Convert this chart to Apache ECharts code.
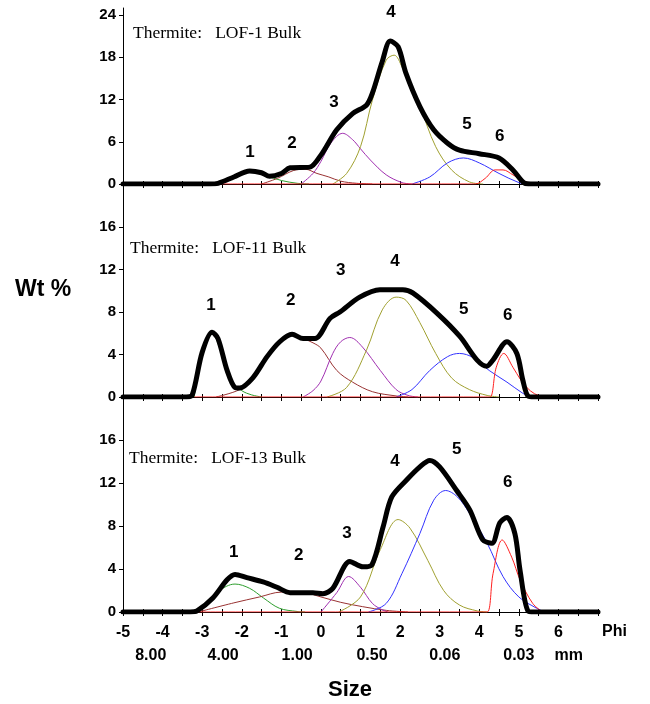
<!DOCTYPE html>
<html>
<head>
<meta charset="utf-8">
<script src="https://cdn.jsdelivr.net/npm/echarts@6/dist/echarts.min.js"></script>
<style>
  html, body { margin: 0; padding: 0; background: #fff; }
  #chart { width: 650px; height: 704px; }
</style>
</head>
<body>
<div id="chart"></div>
<script>
// x axis (phi) labels and the mm row under it
var phiLabels = [-5, -4, -3, -2, -1, 0, 1, 2, 3, 4, 5, 6];
var mmLabels = ['8.00', '4.00', '1.00', '0.50', '0.06', '0.03', 'mm'];
var mmPhi = [-4.3, -2.47, -0.6, 1.29, 3.13, 5.0, 6.26];
var topTicks = [0, 6, 12, 18, 24];
var lowTicks = [0, 4, 8, 12, 16];
var titles = ['Thermite:   LOF-1 Bulk', 'Thermite:   LOF-11 Bulk', 'Thermite:   LOF-13 Bulk'];

// LOF-1
var lof1Total = [[-5,0],[-2.8,0],[-2.6,0.1],[-2.2,1.0],[-1.8,1.85],[-1.5,1.6],[-1.3,1.1],[-1.0,1.5],[-0.78,2.3],[-0.28,2.4],[0,4.1],[0.4,7.7],[0.8,10.0],[1.15,11.2],[1.3,12.9],[1.55,17.4],[1.75,20.3],[1.95,19.5],[2.15,15.7],[2.5,11.0],[2.85,7.7],[3.2,5.8],[3.5,4.8],[4.0,4.3],[4.5,3.7],[4.85,2.0],[5.15,0.1],[5.3,0],[7,0]];
var lof1C1 = [[-2.6,0],[-2.2,0.8],[-1.8,1.8],[-1.4,1.2],[-1.0,0.5],[-0.6,0.1],[-0.3,0]];
var lof1C2 = [[-1.5,0],[-1.1,0.8],[-0.7,1.9],[-0.4,2.1],[-0.1,1.5],[0.2,1.0],[0.5,0.4],[0.9,0.1],[1.3,0]];
var lof1C3 = [[-0.5,0],[-0.2,1.5],[0,3.2],[0.25,5.8],[0.55,7.2],[0.8,6.3],[1.0,5.0],[1.25,3.4],[1.65,1.3],[2.05,0.2],[2.3,0]];
var lof1C4 = [[0.3,0],[0.65,1.5],[1.0,5.3],[1.3,11.9],[1.65,17.6],[1.85,18.3],[2.05,16.6],[2.5,11.0],[2.9,5.3],[3.3,2.0],[3.75,0.3],[4.1,0]];
var lof1C5 = [[2.3,0],[2.75,1.0],[3.2,3.0],[3.6,3.7],[4.0,3.0],[4.5,1.5],[5.0,0.2],[5.2,0]];
var lof1C6 = [[-2.5,0],[3.7,0],[3.9,0],[4.15,0.8],[4.4,2.0],[4.6,2.0],[4.85,1.3],[5.1,0.5],[5.35,0]];
var lof1Peaks = [[-1.79,4.55,'1'],[-0.73,5.82,'2'],[0.33,11.65,'3'],[1.77,24.4,'4'],[3.69,8.5,'5'],[4.52,6.8,'6']];

// LOF-11
var lof11Total = [[-5,0],[-3.4,0],[-3.25,0.2],[-3.0,4.2],[-2.75,6.1],[-2.6,5.5],[-2.37,2.5],[-2.17,0.9],[-2.05,0.85],[-1.72,1.8],[-1.36,3.8],[-1.04,5.2],[-0.73,5.9],[-0.45,5.5],[-0.15,5.5],[0.23,7.4],[0.48,8.0],[0.98,9.4],[1.49,10.1],[2.07,10.1],[2.32,9.8],[2.93,7.9],[3.51,5.7],[3.94,3.5],[4.19,2.9],[4.35,3.5],[4.7,5.2],[4.95,4.1],[5.1,1.6],[5.23,0.1],[5.4,0],[7,0]];
var lof11C1 = [[-3.2,0],[-3.0,4.2],[-2.75,6.0],[-2.5,4.0],[-2.25,1.5],[-2.0,0.6],[-1.75,0.2],[-1.5,0]];
var lof11C2 = [[-2.65,0],[-2.05,0.7],[-1.7,1.8],[-1.35,3.7],[-1.05,5.1],[-0.75,5.85],[-0.45,5.5],[-0.2,5.1],[0,4.6],[0.4,2.5],[0.8,1.4],[1.3,0.5],[1.9,0.1],[2.2,0]];
var lof11C3 = [[-0.45,0],[-0.2,0.6],[0,1.5],[0.3,4.1],[0.5,5.2],[0.73,5.6],[1.05,4.7],[1.5,2.5],[1.9,0.7],[2.2,0.15],[2.45,0]];
var lof11C4 = [[0.15,0],[0.65,0.9],[1.15,4.4],[1.55,8.2],[1.9,9.4],[2.15,9.1],[2.5,7.0],[2.9,4.1],[3.3,1.8],[3.75,0.7],[4.2,0.15],[4.5,0]];
var lof11C5 = [[1.9,0],[2.3,0.7],[2.75,2.5],[3.2,3.8],[3.5,4.1],[3.85,3.7],[4.25,2.5],[4.7,1.4],[5.1,0.35],[5.3,0]];
var lof11C6 = [[-3.2,0],[4.1,0],[4.27,0],[4.43,2.8],[4.62,4.1],[4.85,2.8],[5.05,1.6],[5.2,0.9],[5.4,0.3],[5.65,0]];
var lof11Peaks = [[-2.78,8.66,'1'],[-0.76,9.13,'2'],[0.5,11.95,'3'],[1.87,12.8,'4'],[3.61,8.28,'5'],[4.72,7.72,'6']];

// LOF-13
var lof13Total = [[-5,0],[-3.3,0],[-3.13,0.1],[-2.73,1.3],[-2.37,3.0],[-2.17,3.5],[-1.87,3.2],[-1.46,2.8],[-1.11,2.3],[-0.78,1.8],[-0.2,1.8],[0.05,1.7],[0.3,2.2],[0.73,4.7],[1.06,4.2],[1.29,4.4],[1.57,7.9],[1.79,10.7],[2.17,12.3],[2.5,13.5],[2.75,14.1],[3.0,13.5],[3.43,11.3],[3.76,9.5],[4.09,6.7],[4.32,6.4],[4.52,8.3],[4.7,8.8],[4.9,7.3],[5.03,3.9],[5.23,0.1],[5.4,0],[7,0]];
var lof13C1 = [[-3.1,0],[-2.85,0.8],[-2.6,1.9],[-2.17,2.6],[-1.8,2.2],[-1.45,1.3],[-1.05,0.35],[-0.6,0.05],[-0.4,0]];
var lof13C2 = [[-3.1,0],[-2.2,0.85],[-1.55,1.4],[-1.0,1.85],[-0.5,1.85],[0,1.4],[0.5,0.9],[1.05,0.5],[1.65,0.15],[2.2,0]];
var lof13C3 = [[0,0],[0.4,1.8],[0.7,3.3],[1.0,2.3],[1.3,0.8],[1.55,0.2],[1.7,0]];
var lof13C4 = [[0.45,0],[1.0,1.4],[1.5,5.8],[1.95,8.6],[2.25,7.8],[2.7,4.8],[3.1,2.0],[3.5,0.65],[3.95,0.1],[4.2,0]];
var lof13C5 = [[1.2,0],[1.65,0.8],[2.05,3.6],[2.5,7.3],[2.85,10.4],[3.15,11.3],[3.45,10.7],[3.75,9.2],[4.2,6.4],[4.6,3.3],[5.0,1.4],[5.45,0.35],[5.65,0]];
var lof13C6 = [[-3.1,0],[4.0,0],[4.2,0],[4.35,3.6],[4.58,6.7],[4.82,5.1],[5.03,3.0],[5.35,0.8],[5.6,0]];
var lof13Peaks = [[-2.2,5.58,'1'],[-0.56,5.3,'2'],[0.66,7.35,'3'],[1.87,14.05,'4'],[3.43,15.16,'5'],[4.72,12.1,'6']];

var compColors = ['#2e9e2e', '#993333', '#a030b0', '#a0a030', '#3333ff', '#ff2020'];
var panels = [
  { comps: [lof1C1, lof1C2, lof1C3, lof1C4, lof1C5, lof1C6], total: lof1Total, peaks: lof1Peaks },
  { comps: [lof11C1, lof11C2, lof11C3, lof11C4, lof11C5, lof11C6], total: lof11Total, peaks: lof11Peaks },
  { comps: [lof13C1, lof13C2, lof13C3, lof13C4, lof13C5, lof13C6], total: lof13Total, peaks: lof13Peaks }
];

var bold = { fontFamily: 'Liberation Sans', fontWeight: 'bold', color: '#000' };

var grids = [
  { left: 123, width: 475, top: 8, height: 176 },
  { left: 123, width: 475, top: 184.5, height: 212.5 },
  { left: 123, width: 475, top: 397, height: 215 }
];

var xAxes = [];
var yAxes = [];
var series = [];
panels.forEach(function (p, i) {
  xAxes.push({
    type: 'value', gridIndex: i, min: -5, max: 7, interval: 0.5,
    splitLine: { show: false },
    axisLine: { onZero: false, lineStyle: { color: '#000', width: 1 } },
    axisTick: { length: 4, lineStyle: { color: '#000' } },
    axisLabel: i === 2 ? Object.assign({ customValues: phiLabels, fontSize: 16, margin: 13 }, bold) : { show: false }
  });
  var ticks = i === 0 ? topTicks : lowTicks;
  yAxes.push({
    type: 'value', gridIndex: i, min: 0, max: i === 0 ? 25 : 20,
    splitLine: { show: false },
    axisLine: { show: true, onZero: false, lineStyle: { color: '#000', width: 1 } },
    axisTick: { show: true, length: 4, customValues: ticks, lineStyle: { color: '#000' } },
    axisLabel: Object.assign({ customValues: ticks, fontSize: 15, margin: 7 }, bold)
  });
  p.comps.forEach(function (c, k) {
    series.push({
      type: 'line', xAxisIndex: i, yAxisIndex: i, data: c,
      showSymbol: false, smooth: 0.35,
      lineStyle: { color: compColors[k], width: 1 }, silent: true
    });
  });
  series.push({
    type: 'line', xAxisIndex: i, yAxisIndex: i, data: p.total,
    showSymbol: false, smooth: 0.3,
    lineStyle: { color: '#000', width: 5, join: 'round', cap: 'round' }, silent: true
  });
  series.push({
    type: 'scatter', xAxisIndex: i, yAxisIndex: i, data: p.peaks,
    symbolSize: 0, itemStyle: { color: '#000' }, clip: false, silent: true,
    label: Object.assign({ show: true, position: [0, 0], align: 'center', verticalAlign: 'middle',
      fontSize: 17, textBorderWidth: 0, opacity: 1,
      formatter: function (d) { return d.value[2]; } }, bold)
  });
});

// inner halves of the x ticks, so the ticks cross the axis line
[0, 1, 2].forEach(function (i) {
  xAxes.push({
    type: 'value', gridIndex: i, min: -5, max: 7, interval: 0.5, position: 'bottom',
    splitLine: { show: false }, axisLine: { show: false, onZero: false },
    axisTick: { inside: true, length: 3, lineStyle: { color: '#000' } },
    axisLabel: { show: false }
  });
});

// second axis on the bottom panel carries the mm row
xAxes.push({
  type: 'value', gridIndex: 2, min: -5, max: 7, position: 'bottom', offset: 23,
  splitLine: { show: false }, axisLine: { show: false }, axisTick: { show: false },
  axisLabel: Object.assign({
    customValues: mmPhi, fontSize: 16, margin: 13,
    formatter: function (v) {
      var k = mmPhi.indexOf(v);
      return k >= 0 ? mmLabels[k] : '';
    }
  }, bold)
});

var titleTops = [24, 239, 449];
var titleLefts = [133, 130, 129];

var chart = echarts.init(document.getElementById('chart'));
chart.setOption({
  animation: false,
  backgroundColor: '#fff',
  title: titles.map(function (t, i) {
    return {
      text: t, left: titleLefts[i], top: titleTops[i], padding: 0,
      textStyle: { fontFamily: 'Liberation Serif', fontWeight: 'normal', fontSize: 17.5, color: '#000' }
    };
  }),
  grid: grids,
  xAxis: xAxes,
  yAxis: yAxes,
  series: series,
  graphic: [
    { type: 'text', left: 15, top: 278, style: { text: 'Wt %', font: 'bold 23px "Liberation Sans"', fill: '#000' } },
    { type: 'text', left: 328, top: 679, style: { text: 'Size', font: 'bold 22px "Liberation Sans"', fill: '#000' } },
    { type: 'text', left: 602, top: 624, style: { text: 'Phi', font: 'bold 16px "Liberation Sans"', fill: '#000' } }
  ]
});
</script>
</body>
</html>
